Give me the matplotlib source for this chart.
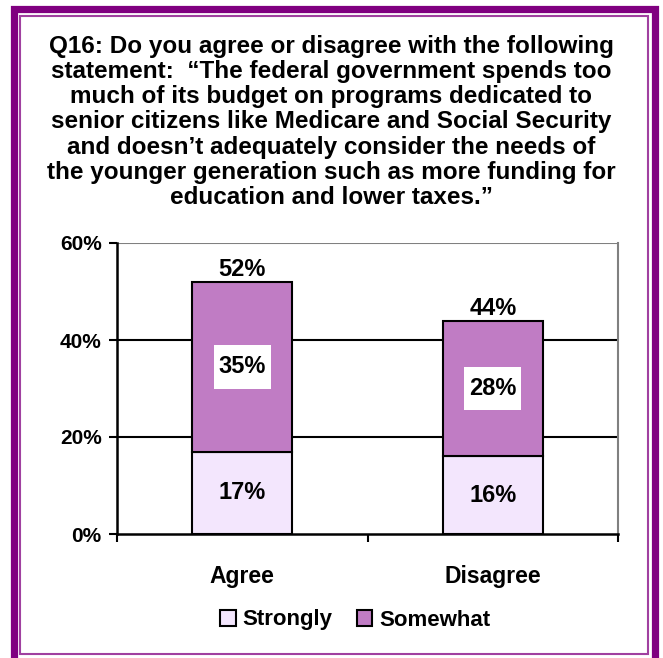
import matplotlib
matplotlib.use("Agg")
import matplotlib.pyplot as plt
from matplotlib.patches import Rectangle, Patch

plt.rcParams['font.family'] = ['Liberation Sans', 'DejaVu Sans']
plt.rcParams['font.weight'] = 'bold'

# data
categories = ["Agree", "Disagree"]
strongly = [17, 16]
somewhat = [35, 28]
totals = [52, 44]
series_names = ["Strongly", "Somewhat"]
yticks = [0, 20, 40, 60]

title_lines = [
    "Q16: Do you agree or disagree with the following",
    "statement:  \u201cThe federal government spends too",
    "much of its budget on programs dedicated to",
    "senior citizens like Medicare and Social Security",
    "and doesn\u2019t adequately consider the needs of",
    "the younger generation such as more funding for",
    "education and lower taxes.\u201d",
]

c_strong = "#f3e6fd"
c_some = "#c07cc4"
purple = "#800080"

W, H = 663, 658
fig = plt.figure(figsize=(W / 100, H / 100), dpi=100)
fig.patch.set_facecolor("white")

# double frame round the chart
fig.add_artist(Rectangle((13.5 / W, -0.05), (654.5 - 13.5) / W, 1.05 - 9 / H,
                         transform=fig.transFigure, fill=False,
                         edgecolor=purple, linewidth=5.2))
fig.add_artist(Rectangle((20 / W, 1 - 654 / H), (648 - 20) / W, (654 - 16) / H,
                         transform=fig.transFigure, fill=False,
                         edgecolor="#a040a0", linewidth=1.5))

# title, one line at a time
y0 = 46
for i, line in enumerate(title_lines):
    fig.text(331 / W, 1 - (y0 + i * 25.3) / H, line, ha="center", va="center",
             fontsize=17.5, fontweight="bold")

ax = fig.add_axes([117 / W, 1 - 534 / H, (618 - 117) / W, (534 - 243) / H])
x = list(range(len(categories)))
ax.bar(x, strongly, width=0.4, color=c_strong, edgecolor="black", linewidth=1.5, zorder=3)
ax.bar(x, somewhat, width=0.4, bottom=strongly, color=c_some, edgecolor="black",
       linewidth=1.5, zorder=3)

ax.set_xlim(-0.5, 1.5)
ax.set_ylim(0, 60)
ax.set_yticks(yticks)
ax.set_yticklabels([f"{t}%" for t in yticks], fontsize=15, fontweight="bold")
ax.set_xticks(x)
ax.set_xticklabels(categories, fontsize=16.5, fontweight="bold")
ax.tick_params(axis="x", which="major", length=0, pad=22)
ax.set_xticks([-0.5, 0.5, 1.5], minor=True)
ax.tick_params(axis="x", which="minor", length=6, width=1.5, direction="out")
ax.tick_params(axis="y", length=6, width=1.5, direction="out", pad=5)

for v in yticks[1:-1]:
    ax.axhline(v, color="black", linewidth=1.5, zorder=1)
ax.axhline(60, color="#808080", linewidth=1.5, zorder=1)

for s in ["left", "bottom"]:
    ax.spines[s].set_linewidth(1.8)
    ax.spines[s].set_color("black")
ax.spines["right"].set_color("#808080")
ax.spines["right"].set_linewidth(1.5)
ax.spines["top"].set_visible(False)

for i in x:
    ax.text(i, strongly[i] / 2, f"{strongly[i]}%", ha="center", va="center",
            fontsize=17, fontweight="bold", zorder=4)
    ax.text(i, strongly[i] + somewhat[i] / 2, f"{somewhat[i]}%", ha="center", va="center",
            fontsize=17, fontweight="bold", zorder=4,
            bbox=dict(boxstyle="square,pad=0.2", mutation_aspect=2.2,
                      facecolor="white", edgecolor="none"))
    ax.text(i, totals[i] + 0.1, f"{totals[i]}%", ha="center", va="bottom",
            fontsize=17, fontweight="bold", zorder=4)

handles = [Patch(facecolor=c_strong, edgecolor="black", linewidth=1.5),
           Patch(facecolor=c_some, edgecolor="black", linewidth=1.5)]
fig.legend(handles, series_names, loc="center", bbox_to_anchor=(355 / W, 1 - 620 / H),
           ncol=2, frameon=False, handlelength=0.7, handleheight=0.7,
           handletextpad=0.3, columnspacing=1.1, prop={"weight": "bold", "size": 16})

fig.savefig("out.png", dpi=100)
